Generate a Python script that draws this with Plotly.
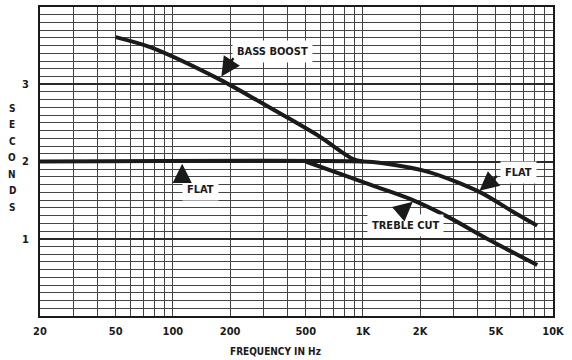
import math
import plotly.graph_objects as go

# ---- data ----
freq_flat = [20, 1000, 1250, 2250, 4150, 6150, 8250]
sec_flat = [2.0, 2.0, 1.98, 1.86, 1.60, 1.35, 1.17]

freq_bass = [50, 76, 177, 288, 400, 594, 888, 1000]
sec_bass = [3.61, 3.48, 3.06, 2.77, 2.57, 2.32, 2.03, 2.0]

freq_treble = [500, 800, 1250, 1830, 2770, 4660, 8260]
sec_treble = [2.0, 1.82, 1.65, 1.50, 1.29, 0.98, 0.66]

x_tickvals = [20, 50, 100, 200, 500, 1000, 2000, 5000, 10000]
x_ticktext = ["20", "50", "100", "200", "500", "1K", "2K", "5K", "10K"]
x_minor = [m * d for d in (10, 100, 1000) for m in range(1, 10)] + [10000]
x_minor = [v for v in x_minor if v >= 20]
y_tickvals = [1, 2, 3]
y_ticktext = ["1", "2", "3"]

FONT = "DejaVu Sans Condensed, Liberation Sans Narrow, Arial Narrow, sans-serif"
INK = "#1a1a1a"
GRID = "#444444"

fig = go.Figure()
for xs, ys in ((freq_flat, sec_flat), (freq_bass, sec_bass), (freq_treble, sec_treble)):
    fig.add_trace(go.Scatter(x=xs, y=ys, mode="lines",
                             line=dict(color=INK, width=4, shape="spline", smoothing=0.8),
                             showlegend=False, hoverinfo="skip"))

lx = math.log10

# text labels with white boxes
labels = [
    ("BASS BOOST", lx(333), 3.43),
    ("FLAT", lx(139), 1.64),
    ("TREBLE CUT", lx(1670), 1.17),
    ("FLAT", lx(6560), 1.86),
]
for txt, x, y in labels:
    fig.add_annotation(x=x, y=y, text="<b>%s</b>" % txt, showarrow=False,
                       font=dict(family=FONT, size=11, color=INK),
                       bgcolor="white", borderpad=4)

# arrows (tip on curve, tail offset in px)
arrows = [
    (lx(180), 3.10, 13, -20),
    (lx(112), 1.97, 0, 20),
    (lx(1830), 1.48, -14, 12),
    (lx(4100), 1.62, 19, -16),
]
for x, y, ax, ay in arrows:
    fig.add_annotation(x=x, y=y, ax=ax, ay=ay, text="", showarrow=True,
                       arrowhead=2, arrowsize=1.6, arrowwidth=2.4, arrowcolor=INK)

# vertical axis title as stacked letters
for i, ch in enumerate("SECONDS"):
    fig.add_annotation(xref="paper", yref="paper", x=(12 - 40) / 513,
                       y=(316 - (108 + 16.5 * i)) / 309,
                       text="<b>%s</b>" % ch, showarrow=False,
                       font=dict(family=FONT, size=10, color=INK),
                       xanchor="center", yanchor="middle")

# horizontal axis title
fig.add_annotation(xref="paper", yref="paper", x=(275 - 40) / 513, y=-(351 - 316) / 309,
                   text="<b>FREQUENCY IN Hz</b>", showarrow=False,
                   font=dict(family=FONT, size=10, color=INK),
                   xanchor="center", yanchor="middle")

fig.update_layout(
    width=572, height=360,
    margin=dict(l=40, r=19, t=7, b=44),
    paper_bgcolor="white", plot_bgcolor="white",
    font=dict(family=FONT, size=11, color=INK),
    xaxis=dict(type="log", range=[lx(20), lx(10000)], automargin=False,
               tickvals=x_tickvals, ticktext=["<b>%s</b>" % t for t in x_ticktext],
               showgrid=True, gridcolor=GRID, gridwidth=1,
               minor=dict(tickvals=x_minor, showgrid=True, gridcolor=GRID, gridwidth=1),
               showline=True, mirror=True, linecolor=INK, linewidth=2,
               ticks="", ticklabelstandoff=4, zeroline=False,
               tickfont=dict(family=FONT, size=11, color=INK)),
    yaxis=dict(range=[0, 4], automargin=False,
               tickvals=y_tickvals, ticktext=["<b>%s</b>" % t for t in y_ticktext],
               showgrid=True, gridcolor="#2a2a2a", gridwidth=2,
               minor=dict(dtick=0.1, showgrid=True, gridcolor=GRID, gridwidth=1),
               showline=True, mirror=True, linecolor=INK, linewidth=2,
               ticks="", ticklabelstandoff=7, zeroline=False,
               tickfont=dict(family=FONT, size=11, color=INK)),
)

fig.write_html("out.html", config={"displayModeBar": False},
               post_script="document.body.style.margin='0';")
